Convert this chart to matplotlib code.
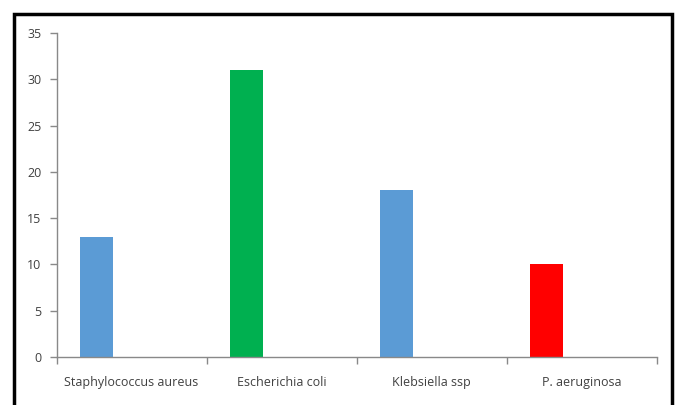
import numpy as np
import matplotlib
matplotlib.use('Agg')
import matplotlib.pyplot as plt
from matplotlib.patches import Rectangle

categories = ['Staphylococcus aureus', 'Escherichia coli', 'Klebsiella ssp', 'P. aeruginosa']
values = [13, 31, 18, 10]
colors = ['#5B9BD5', '#00B050', '#FF0000']
bar_colors = [colors[0], colors[1], colors[0], colors[2]]
yticks = [0, 5, 10, 15, 20, 25, 30, 35]

W, H = 679, 405
fig = plt.figure(figsize=(W / 100, H / 100), dpi=100)
ax = fig.add_axes([56.5 / W, (H - 357) / H, (657 - 56.5) / W, (357 - 33) / H])

x = np.arange(len(categories))
ax.bar(x - 0.235, values, width=0.22, color=bar_colors, zorder=2)

ax.set_xlim(-0.5, len(categories) - 0.5)
ax.set_ylim(0, 35)
ax.set_yticks(yticks)
ax.set_xticks(np.arange(len(categories) + 1) - 0.5)
ax.set_xticklabels([])
ax.set_xticks(x, minor=True)
ax.set_xticklabels(categories, minor=True)

axis_gray = '#898989'
for side in ['top', 'right']:
    ax.spines[side].set_visible(False)
for side in ['left', 'bottom']:
    ax.spines[side].set_color(axis_gray)
    ax.spines[side].set_linewidth(1.0)
ax.tick_params(axis='y', which='major', direction='out', length=5, width=1,
               color=axis_gray, labelsize=9, labelcolor='#404040', pad=6)
ax.tick_params(axis='x', which='major', direction='out', length=5, width=1,
               color=axis_gray)
ax.tick_params(axis='x', which='minor', length=0, labelsize=9,
               labelcolor='#404040', pad=14)
for lbl in ax.get_yticklabels() + ax.get_xticklabels(minor=True):
    lbl.set_family('Open Sans')

# outer frame round the chart
fig.patches.append(Rectangle((14 / W, -0.05), (672 - 14) / W, (H - 14) / H + 0.05,
                             transform=fig.transFigure, fill=False,
                             edgecolor='black', linewidth=2.5))

fig.savefig('out.png', dpi=100)
